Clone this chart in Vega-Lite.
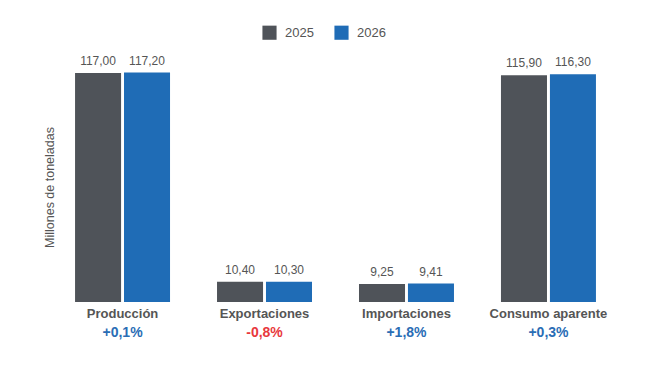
{
  "$schema": "https://vega.github.io/schema/vega-lite/v6.json",
  "autosize": {"type": "none"},
  "width": 551,
  "height": 230,
  "padding": {"left": 60, "top": 72, "right": 39, "bottom": 64},
  "background": "white",
  "config": {
    "font": "Liberation Sans",
    "view": {"stroke": null},
    "locale": {"number": {"decimal": ",", "thousands": ".", "grouping": [3], "currency": ["", " €"]}}
  },
  "data": {
    "values": [
      {"categoria": "Producción", "anio": "2025", "valor": 117.00},
      {"categoria": "Producción", "anio": "2026", "valor": 117.20},
      {"categoria": "Exportaciones", "anio": "2025", "valor": 10.40},
      {"categoria": "Exportaciones", "anio": "2026", "valor": 10.30},
      {"categoria": "Importaciones", "anio": "2025", "valor": 9.25},
      {"categoria": "Importaciones", "anio": "2026", "valor": 9.41},
      {"categoria": "Consumo aparente", "anio": "2025", "valor": 115.90},
      {"categoria": "Consumo aparente", "anio": "2026", "valor": 116.30}
    ]
  },
  "encoding": {
    "x": {
      "field": "categoria",
      "type": "nominal",
      "sort": ["Producción", "Exportaciones", "Importaciones", "Consumo aparente"],
      "scale": {"paddingInner": 0.331, "paddingOuter": 0.106},
      "axis": null
    },
    "xOffset": {"field": "anio", "type": "nominal", "scale": {"paddingInner": 0.06}},
    "y": {
      "field": "valor",
      "type": "quantitative",
      "scale": {"domain": [0, 117.5], "nice": false, "zero": true},
      "axis": {
        "title": "Millones de toneladas",
        "labels": false, "ticks": false, "domain": false, "grid": false,
        "titleFontSize": 12.5, "titleFontWeight": "normal", "titleColor": "#555555",
        "titlePadding": 4
      }
    }
  },
  "layer": [
    {
      "mark": {"type": "bar"},
      "encoding": {
        "color": {
          "field": "anio",
          "type": "nominal",
          "scale": {"domain": ["2025", "2026"], "range": ["#4f5359", "#1f6cb6"]},
          "legend": {
            "title": null,
            "orient": "none",
            "direction": "horizontal",
            "legendX": 202,
            "legendY": -47,
            "symbolType": "square",
            "symbolSize": 200,
            "symbolStrokeWidth": 0,
            "labelFontSize": 13,
            "labelColor": "#555555",
            "columnPadding": 20,
            "labelOffset": 8
          }
        }
      }
    },
    {
      "mark": {"type": "text", "baseline": "bottom", "dy": -5, "fontSize": 12, "color": "#555555"},
      "encoding": {
        "text": {"field": "valor", "type": "quantitative", "format": ".2f"}
      }
    },
    {
      "mark": {"type": "text", "opacity": 0},
      "encoding": {
        "text": {"field": "anio"},
        "x": {
          "field": "categoria",
          "type": "nominal",
          "sort": ["Producción", "Exportaciones", "Importaciones", "Consumo aparente"],
          "axis": {
            "orient": "bottom",
            "title": null, "ticks": false, "domain": false, "grid": false,
            "labelFontSize": 13, "labelFontWeight": "bold", "labelColor": "#555555",
            "labelPadding": 5, "labelAngle": 0
          }
        }
      }
    },
    {
      "mark": {"type": "text", "opacity": 0},
      "encoding": {
        "text": {"field": "anio"},
        "x": {
          "field": "categoria",
          "type": "nominal",
          "sort": ["Producción", "Exportaciones", "Importaciones", "Consumo aparente"],
          "axis": {
            "orient": "bottom",
            "offset": 19,
            "title": null, "ticks": false, "domain": false, "grid": false,
            "labelFontSize": 14, "labelFontWeight": "bold", "labelAngle": 0,
            "labelPadding": 4,
            "labelExpr": "datum.value == 'Producción' ? '+0,1%' : datum.value == 'Exportaciones' ? '-0,8%' : datum.value == 'Importaciones' ? '+1,8%' : '+0,3%'",
            "labelColor": {"condition": {"test": "datum.value == 'Exportaciones'", "value": "#e8383d"}, "value": "#2a6db5"}
          }
        }
      }
    }
  ],
  "resolve": {"axis": {"x": "independent"}}
}
